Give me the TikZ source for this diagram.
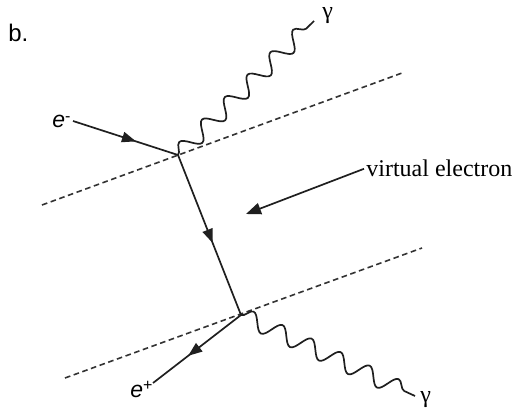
\documentclass[tikz,border=0pt]{standalone}
\usepackage{fontspec}
\setmainfont{Liberation Serif}
\newfontfamily\arialf{Liberation Sans}
\usetikzlibrary{arrows.meta,decorations.markings,decorations.pathmorphing}
\definecolor{linecol}{gray}{0.12}
\definecolor{dashcol}{gray}{0.2}
\tikzset{
  fermion/.style={draw=linecol, line width=0.85pt, postaction={decorate},
    decoration={markings, mark=at position #1 with {\arrow[linecol]{Triangle[length=7pt,width=5.2pt]}}}},
  photon/.style={draw=linecol, line width=0.85pt, decorate,
    decoration={snake, segment length=16pt, amplitude=4.2pt}},
  sheet/.style={draw=dashcol, line width=0.8pt, dash pattern=on 2.8pt off 1.8pt},
  lbl/.style={inner sep=0pt, anchor=base west, font=\fontsize{12}{14}\selectfont},
  pointer/.style={draw=linecol, line width=0.85pt, -{Triangle[length=7.5pt,width=5.8pt]}}
}
\begin{document}
\begin{tikzpicture}[x=0.5pt,y=-0.5pt]
\useasboundingbox (0,0) rectangle (519,411);
% vertices
\coordinate (v1) at (178,155);
\coordinate (v2) at (241,315);
% free ends
\coordinate (ein) at (73,121);
\coordinate (eout) at (153,383);
\coordinate (g1) at (314,21);
\coordinate (g2) at (415,396);
\coordinate (s1a) at (42,205);
\coordinate (s1b) at (402,73);
\coordinate (s2a) at (65,378);
\coordinate (s2b) at (422,248);
\coordinate (vtip) at (246,214);
% labels
\node[lbl, font=\fontsize{12}{14}\selectfont\arialf] (blab) at (8,42) {b.};
\node[lbl, font=\fontsize{11.5}{14}\selectfont\arialf] (em) at (52,128) {\textit{e}\raisebox{0.55ex}{\fontsize{8}{9}\selectfont -}};
\node[lbl, font=\fontsize{11.5}{14}\selectfont\arialf] (ep) at (130,397) {\textit{e}\raisebox{0.55ex}{\fontsize{8}{9}\selectfont +}};
\node[lbl] (gam1) at (322,19) {γ};
\node[lbl] (gam2) at (420,402) {γ};
\node[lbl, inner sep=1pt] (vtext) at (364,177) {virtual electron};
% dashed sheets
\draw[sheet] (s1a) -- (s1b);
\draw[sheet] (s2a) -- (s2b);
% fermion lines
\draw[fermion=0.6] (ein) -- (v1);
\draw[fermion=0.55] (v1) -- (v2);
\draw[fermion=0.6] (v2) -- (eout);
% photons
\draw[photon] (v1) -- (g1);
\draw[photon] (v2) -- (g2);
% pointer
\draw[pointer] (vtext.west) -- (vtip);
\end{tikzpicture}
\end{document}
